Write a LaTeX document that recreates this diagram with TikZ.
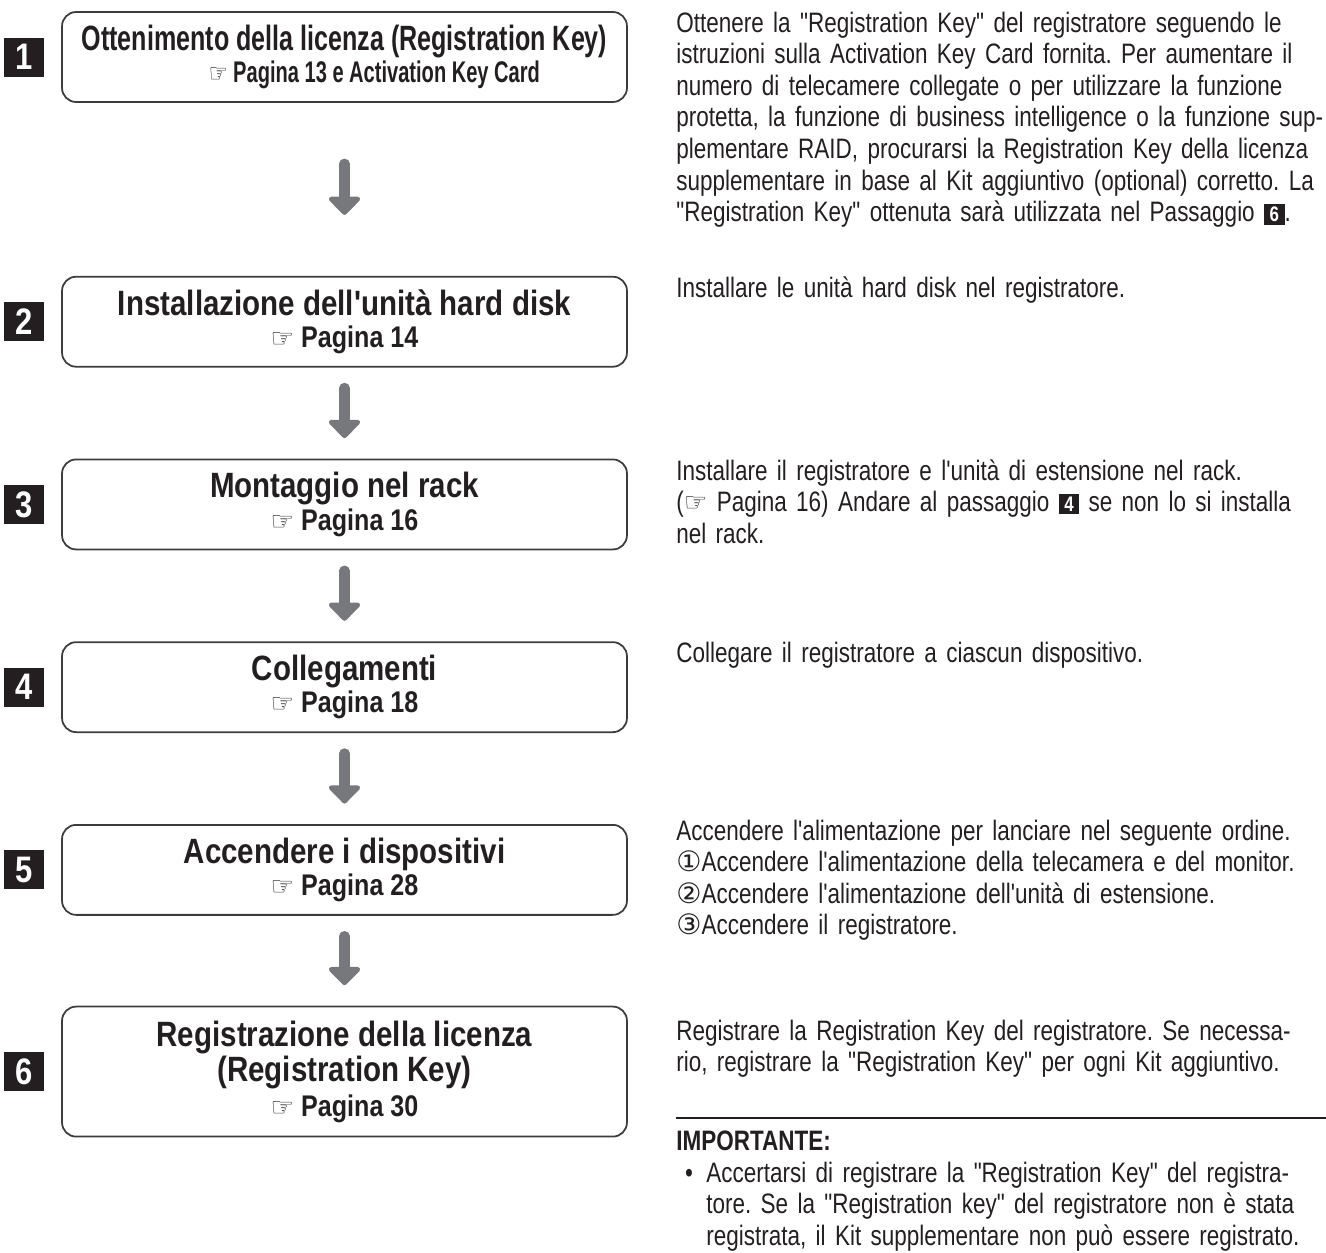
\documentclass[tikz,border=0pt]{standalone}
\usepackage{fontspec}
\usepackage{graphicx}
\newfontfamily\bodyfont{Liberation Sans}[FakeStretch=0.80, WordSpace=0.75]
\newfontfamily\boxfont{Liberation Sans}[FakeStretch=0.84]
\newfontfamily\symfont{DejaVu Sans}
\usetikzlibrary{arrows.meta, positioning}
\definecolor{inkblack}{RGB}{35, 31, 32}
\definecolor{boxline}{RGB}{60, 60, 62}
\definecolor{arrowgray}{RGB}{119, 120, 123}
\newcommand{\handref}{{\symfont\fontsize{15}{15}\selectfont ☞}}
\newcommand{\seepage}[1]{{\fontsize{17}{18.5}\selectfont\handref\ Pagina #1}}
\newcommand{\stepmark}[1]{{\setlength{\fboxsep}{1.5pt}\colorbox{inkblack}{\makebox[8.6pt]{\color{white}\bfseries\fontsize{12}{12}\selectfont #1}}}}
\newcommand{\circnum}[1]{{\symfont\fontsize{16}{16}\selectfont #1}}
\tikzset{
  font=\bodyfont\frenchspacing,
  stepbox/.style={
    rectangle, rounded corners=8pt, draw=boxline, line width=1pt,
    minimum width=11.3cm, minimum height=1.8cm, align=center,
    text=inkblack, font=\boxfont\bfseries\fontsize{20}{18.5}\selectfont
  },
  stepnum/.style={
    rectangle, fill=inkblack, text=white, inner sep=0pt,
    minimum width=0.8cm, minimum height=0.78cm,
    font=\boxfont\bfseries\fontsize{21}{21}\selectfont
  },
  notetext/.style={
    anchor=base west, inner sep=0pt, text width=14cm, align=left,
    text=inkblack, font=\bodyfont\frenchspacing\fontsize{16}{18}\selectfont
  },
  bulletmark/.style={
    anchor=base, inner sep=0pt, text=inkblack,
    font=\bodyfont\fontsize{16}{18}\selectfont
  },
  flowarrow/.style={
    draw=arrowgray, line width=6pt, line cap=round,
    -{Triangle[length=11pt, width=21pt, round]}
  }
}
\begin{document}
\begin{tikzpicture}[x=0.02cm, y=-0.02cm]
  \useasboundingbox (0,0) rectangle (1326,1252);

  % steps on the left
  \node[stepbox] (lic) at (344.5,57) {%
    \scalebox{0.85}[1]{Ottenimento della licenza (Registration Key)}\\
    \hspace*{34pt}\scalebox{0.8}[1]{\seepage{13 e Activation Key Card}}};
  \node[stepbox, below=3.46cm of lic] (hdd) {Installazione dell'unità hard disk\\ \seepage{14}};
  \node[stepbox, below=1.82cm of hdd] (rack) {Montaggio nel rack\\ \seepage{16}};
  \node[stepbox, below=1.82cm of rack] (conn) {Collegamenti\\ \seepage{18}};
  \node[stepbox, below=1.82cm of conn] (power) {Accendere i dispositivi\\ \seepage{28}};
  \node[stepbox, below=1.8cm of power, minimum height=2.6cm,
        font=\boxfont\bfseries\fontsize{20}{20}\selectfont] (reg)
    {Registrazione della licenza\\ (Registration Key)\\ \seepage{30}};

  \node[stepnum, left=0.34cm of lic] (num1) {1};
  \node[stepnum, left=0.34cm of hdd] (num2) {2};
  \node[stepnum, left=0.34cm of rack] (num3) {3};
  \node[stepnum, left=0.34cm of conn] (num4) {4};
  \node[stepnum, left=0.34cm of power] (num5) {5};
  \node[stepnum, left=0.34cm of reg] (num6) {6};

  \draw[flowarrow, shorten <=1.22cm, shorten >=1.22cm] (lic) -- (hdd);
  \draw[flowarrow, shorten <=0.41cm, shorten >=0.41cm] (hdd) -- (rack);
  \draw[flowarrow, shorten <=0.41cm, shorten >=0.41cm] (rack) -- (conn);
  \draw[flowarrow, shorten <=0.41cm, shorten >=0.41cm] (conn) -- (power);
  \draw[flowarrow, shorten <=0.41cm, shorten >=0.41cm] (power) -- (reg);

  % notes on the right
  \node[notetext] (notelic) at (676,32) {%
    Ottenere la "Registration Key" del registratore seguendo le\\
    istruzioni sulla Activation Key Card fornita. Per aumentare il\\
    numero di telecamere collegate o per utilizzare la funzione\\
    protetta, la funzione di business intelligence o la funzione sup-\\
    plementare RAID, procurarsi la Registration Key della licenza\\
    supplementare in base al Kit aggiuntivo (optional) corretto. La\\
    "Registration Key" ottenuta sarà utilizzata nel Passaggio \stepmark{6}.};
  \node[notetext] (notehdd) at (676,297) {Installare le unità hard disk nel registratore.};
  \node[notetext] (noterack) at (676,480) {%
    Installare il registratore e l'unità di estensione nel rack.\\
    (\handref\ Pagina 16) Andare al passaggio \stepmark{4} se non lo si installa\\
    nel rack.};
  \node[notetext] (noteconn) at (676,662) {Collegare il registratore a ciascun dispositivo.};
  \node[notetext] (notepower) at (676,840) {%
    Accendere l'alimentazione per lanciare nel seguente ordine.\\
    \circnum{①}Accendere l'alimentazione della telecamera e del monitor.\\
    \circnum{②}Accendere l'alimentazione dell'unità di estensione.\\
    \circnum{③}Accendere il registratore.};
  \node[notetext] (notereg) at (676,1040) {%
    Registrare la Registration Key del registratore. Se necessa-\\
    rio, registrare la "Registration Key" per ogni Kit aggiuntivo.};

  % important box
  \draw[draw=inkblack, line width=1.5pt] (676,1118) -- (1326,1118);
  \node[notetext, font=\bodyfont\bfseries\fontsize{16}{18}\selectfont] (importante) at (676,1150) {IMPORTANTE:};
  \node[bulletmark] (bulletdot) at (689,1182) {•};
  \node[notetext, text width=12.6cm] (noteimp) at (706,1182) {%
    Accertarsi di registrare la "Registration Key" del registra-\\
    tore. Se la "Registration key" del registratore non è stata\\
    registrata, il Kit supplementare non può essere registrato.};
\end{tikzpicture}
\end{document}
